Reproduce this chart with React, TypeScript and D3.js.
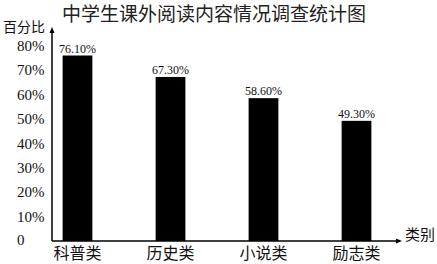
import React from "react";
import * as d3 from "d3";

const categories = ["科普类", "历史类", "小说类", "励志类"];
const values = [76.1, 67.3, 58.6, 49.3];
const valueLabels = ["76.10%", "67.30%", "58.60%", "49.30%"];
const yTicks = [0, 10, 20, 30, 40, 50, 60, 70, 80];

const W = 437, H = 264;
const serif = "'Liberation Serif', 'Times New Roman', serif";
const cjk = "'Noto Sans CJK SC', sans-serif";

export default function App() {
  const x0 = 52, baseY = 241;
  const y = d3.scaleLinear().domain([0, 80]).range([baseY, 46]);
  const x = d3.scaleBand().domain(categories).range([31, 403]).paddingInner(0.68).paddingOuter(0.34);
  return (
    <svg width={W} height={H} style={{ position: "absolute", left: 0, top: 0, background: "#fff" }}>
      <text x={214} y={21} textAnchor="middle" fontFamily={cjk} fontSize={19} fill="#222">中学生课外阅读内容情况调查统计图</text>
      <text x={3} y={32} fontFamily={cjk} fontSize={14} fill="#111">百分比</text>
      <text x={405} y={240} fontFamily={cjk} fontSize={15} fill="#111">类别</text>
      <line x1={x0} y1={baseY} x2={x0} y2={32} stroke="#000" strokeWidth={1.5} />
      <path d={`M${x0 - 2.5},33 L${x0},27 L${x0 + 2.5},33 Z`} fill="#000" />
      <line x1={x0} y1={baseY} x2={397} y2={baseY} stroke="#000" strokeWidth={1.5} />
      <path d={`M396,${baseY - 2.5} L402,${baseY} L396,${baseY + 2.5} Z`} fill="#000" />
      {yTicks.map((t) => (
        <text key={t} x={17} y={y(t) + (t === 0 ? 4 : 5)} fontFamily={serif} fontSize={15} fill="#111">
          {t === 0 ? "0" : `${t}%`}
        </text>
      ))}
      {categories.map((c, i) => (
        <g key={c}>
          <rect x={x(c)} y={y(values[i])} width={x.bandwidth()} height={baseY - y(values[i])} fill="#000" />
          <text x={x(c)! + x.bandwidth() / 2} y={y(values[i]) - 3} textAnchor="middle" fontFamily={serif} fontSize={12} fill="#111">
            {valueLabels[i]}
          </text>
          <text x={x(c)! + x.bandwidth() / 2} y={259} textAnchor="middle" fontFamily={cjk} fontSize={16} fill="#111">
            {c}
          </text>
        </g>
      ))}
    </svg>
  );
}
